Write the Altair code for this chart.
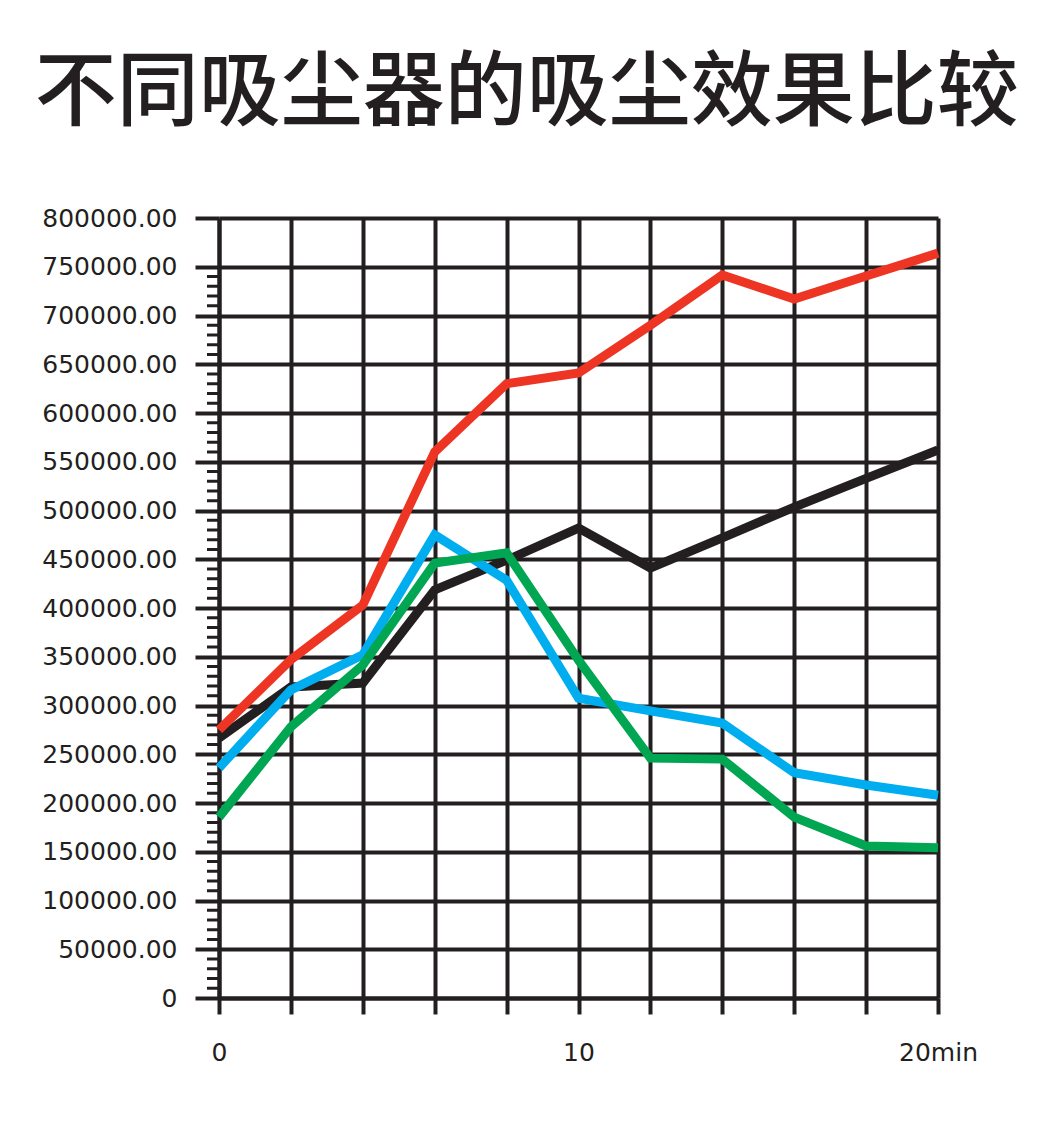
import altair as alt
import pandas as pd

minutes = [0, 2, 4, 6, 8, 10, 12, 14, 16, 18, 20]
red = [275000, 347000, 403000, 560000, 630000, 641000, 690000, 741500, 717000, 740500, 764000]
black = [266700, 319000, 323000, 418500, 449000, 482000, 441000, 472000, 503500, 533000, 562000]
blue = [236000, 316000, 352000, 475000, 428500, 307500, 294500, 282000, 231000, 218500, 208000]
green = [185500, 278000, 341500, 446000, 456500, 346500, 246000, 245000, 185500, 156000, 154000]

series_names = ["黑", "蓝", "绿", "红"]
series_values = [black, blue, green, red]
series_colors = ["#231f20", "#00aeef", "#00a651", "#ee3524"]

y_major = list(range(0, 800001, 50000))
y_minor = [v for v in range(10000, 750000, 10000) if v % 50000 != 0]
x_major = list(range(0, 21, 2))

rows = []
for order, (name, vals) in enumerate(zip(series_names, series_values)):
    for m, v in zip(minutes, vals):
        rows.append({"series": name, "minute": m, "value": v, "order": order})
df = pd.DataFrame(rows)

INK = "#231f20"
LABEL_FONT = "DejaVu Sans"

x_scale = alt.Scale(domain=[0, 20], nice=False, zero=False)
y_scale = alt.Scale(domain=[0, 800000], nice=False)

x_axis = alt.Axis(
    values=x_major, grid=True, gridColor=INK, gridWidth=4, gridOpacity=1,
    domainColor=INK, domainWidth=4, tickColor=INK, tickWidth=4, tickSize=16,
    labelExpr="datum.value == 0 ? '0' : (datum.value == 10 ? '10' : (datum.value == 20 ? '20min' : ''))",
    labelFont=LABEL_FONT, labelFontSize=25, labelColor=INK, labelPadding=26,
    labelFlush=False, labelOverlap=False, title=None,
)
y_axis = alt.Axis(
    values=y_major, grid=True, gridColor=INK, gridWidth=4, gridOpacity=1,
    domainColor=INK, domainWidth=4, tickColor=INK, tickWidth=4, tickSize=24,
    labelExpr="datum.value == 0 ? '0' : format(datum.value, '.2f')",
    labelFont=LABEL_FONT, labelFontSize=25, labelColor=INK, labelPadding=18,
    labelFlush=False, labelOverlap=False, title=None,
)

lines = alt.Chart(df).mark_line(strokeWidth=9, strokeJoin="miter", strokeCap="butt").encode(
    x=alt.X("minute:Q", scale=x_scale, axis=x_axis),
    y=alt.Y("value:Q", scale=y_scale, axis=y_axis),
    color=alt.Color("series:N", scale=alt.Scale(domain=series_names, range=series_colors), legend=None),
    order=alt.Order("order:Q"),
    detail="series:N",
)

minor_df = pd.DataFrame({"tick": y_minor})
minor = alt.Chart(minor_df).mark_rule(color=INK, strokeWidth=3, clip=False).encode(
    y=alt.Y("tick:Q", scale=y_scale),
    x=alt.value(-12),
    x2=alt.value(0),
)

chart = alt.layer(minor, lines).properties(
    width=719,
    height=780,
    title=alt.TitleParams(
        "不同吸尘器的吸尘效果比较",
        font="Noto Sans CJK SC", fontSize=82, fontWeight=500, color=INK,
        anchor="start", frame="bounds", baseline="alphabetic", offset=5, dx=-7,
    ),
    autosize=alt.AutoSizeParams(type="none"),
    padding={"left": 219, "top": 218, "right": 111, "bottom": 127},
).configure_view(stroke=None).configure(background="white")

chart.save("out.html", embed_options={"renderer": "svg", "actions": False})
